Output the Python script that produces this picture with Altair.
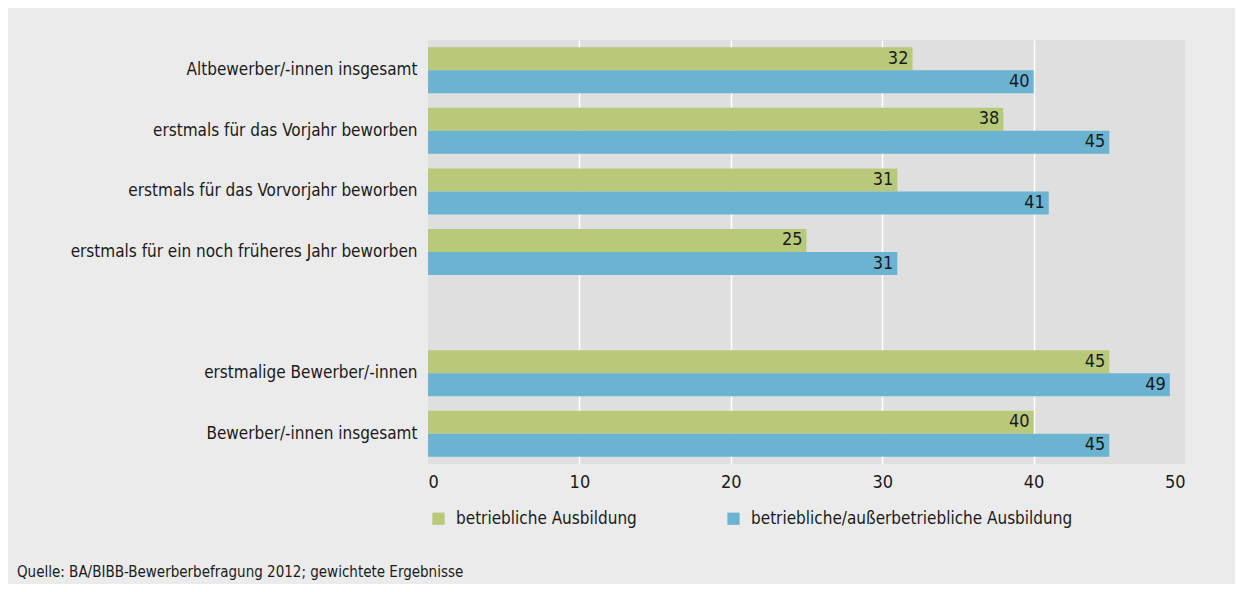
import altair as alt
import pandas as pd

categories = [
    "Altbewerber/-innen insgesamt",
    "erstmals für das Vorjahr beworben",
    "erstmals für das Vorvorjahr beworben",
    "erstmals für ein noch früheres Jahr beworben",
    " ",
    "erstmalige Bewerber/-innen",
    "Bewerber/-innen insgesamt",
]
data_categories = [c for c in categories if c.strip()]
series = ["betriebliche Ausbildung", "betriebliche/außerbetriebliche Ausbildung"]
betrieblich = [32, 38, 31, 25, 45, 40]
ausserbetrieblich = [40, 45, 41, 31, 49, 45]
colors = ["#b8c97a", "#6bb3d0"]
x_ticks = [0, 10, 20, 30, 40, 50]
source = "Quelle: BA/BIBB-Bewerberbefragung 2012; gewichtete Ergebnisse"

rows = []
for c, a, b in zip(data_categories, betrieblich, ausserbetrieblich):
    rows.append({"kategorie": c, "serie": series[0], "wert": a})
    rows.append({"kategorie": c, "serie": series[1], "wert": b})
df = pd.DataFrame(rows)

FONT = "Liberation Sans Narrow, DejaVu Sans Condensed, Roboto"
TXT = "#1a1a1a"

y_enc = alt.Y(
    "kategorie:N",
    scale=alt.Scale(domain=categories, paddingInner=0.24, paddingOuter=0.12),
    axis=alt.Axis(title=None, ticks=False, domain=False, labelFontSize=17,
                  labelPadding=11, labelColor=TXT, labelFont=FONT, labelLimit=400),
)
yoff = alt.YOffset("serie:N", scale=alt.Scale(domain=series, paddingInner=0, paddingOuter=0))
x_enc = alt.X(
    "wert:Q",
    scale=alt.Scale(domain=[0, 50], nice=False),
    axis=alt.Axis(title=None, values=x_ticks, ticks=False, domain=False,
                  labelFontSize=18, labelColor=TXT, labelFont=FONT, labelPadding=9,
                  gridColor="white", gridWidth=1.5,
                  gridOpacity={"condition": {"test": "datum.value == 0 || datum.value == 50", "value": 0}, "value": 1}),
)

bars = alt.Chart(df).mark_bar().encode(
    x=x_enc,
    y=y_enc,
    yOffset=yoff,
    color=alt.Color(
        "serie:N",
        scale=alt.Scale(domain=series, range=colors),
        legend=alt.Legend(title=None, orient="none", legendX=2, legendY=470,
                          direction="horizontal", symbolType="square", symbolSize=150,
                          symbolStrokeWidth=0, labelFontSize=17, labelFont=FONT,
                          labelColor=TXT, columnPadding=88, labelOffset=9,
                          labelLimit=500),
    ),
)

labels = alt.Chart(df).mark_text(align="right", baseline="middle", dx=-4, fontSize=18,
                                 font=FONT, color=TXT).encode(
    x="wert:Q",
    y=alt.Y("kategorie:N", scale=alt.Scale(domain=categories)),
    yOffset=alt.YOffset("serie:N", scale=alt.Scale(domain=series)),
    text="wert:Q",
)

chart = (
    alt.layer(bars, labels)
    .properties(
        width=757,
        height=424,
        autosize=alt.AutoSizeParams(type="none"),
        padding={"left": 420, "top": 32, "right": 50, "bottom": 120},
        background="#ebebeb",
        title=alt.TitleParams(source, orient="bottom", anchor="start", frame="group",
                              dx=-411, offset=38, fontSize=15, font=FONT,
                              color=TXT, fontWeight="normal"),
    )
    .configure_view(fill="#dfdfdf", stroke=None)
)

chart.save("out.html", embed_options={"renderer": "svg", "actions": False})
